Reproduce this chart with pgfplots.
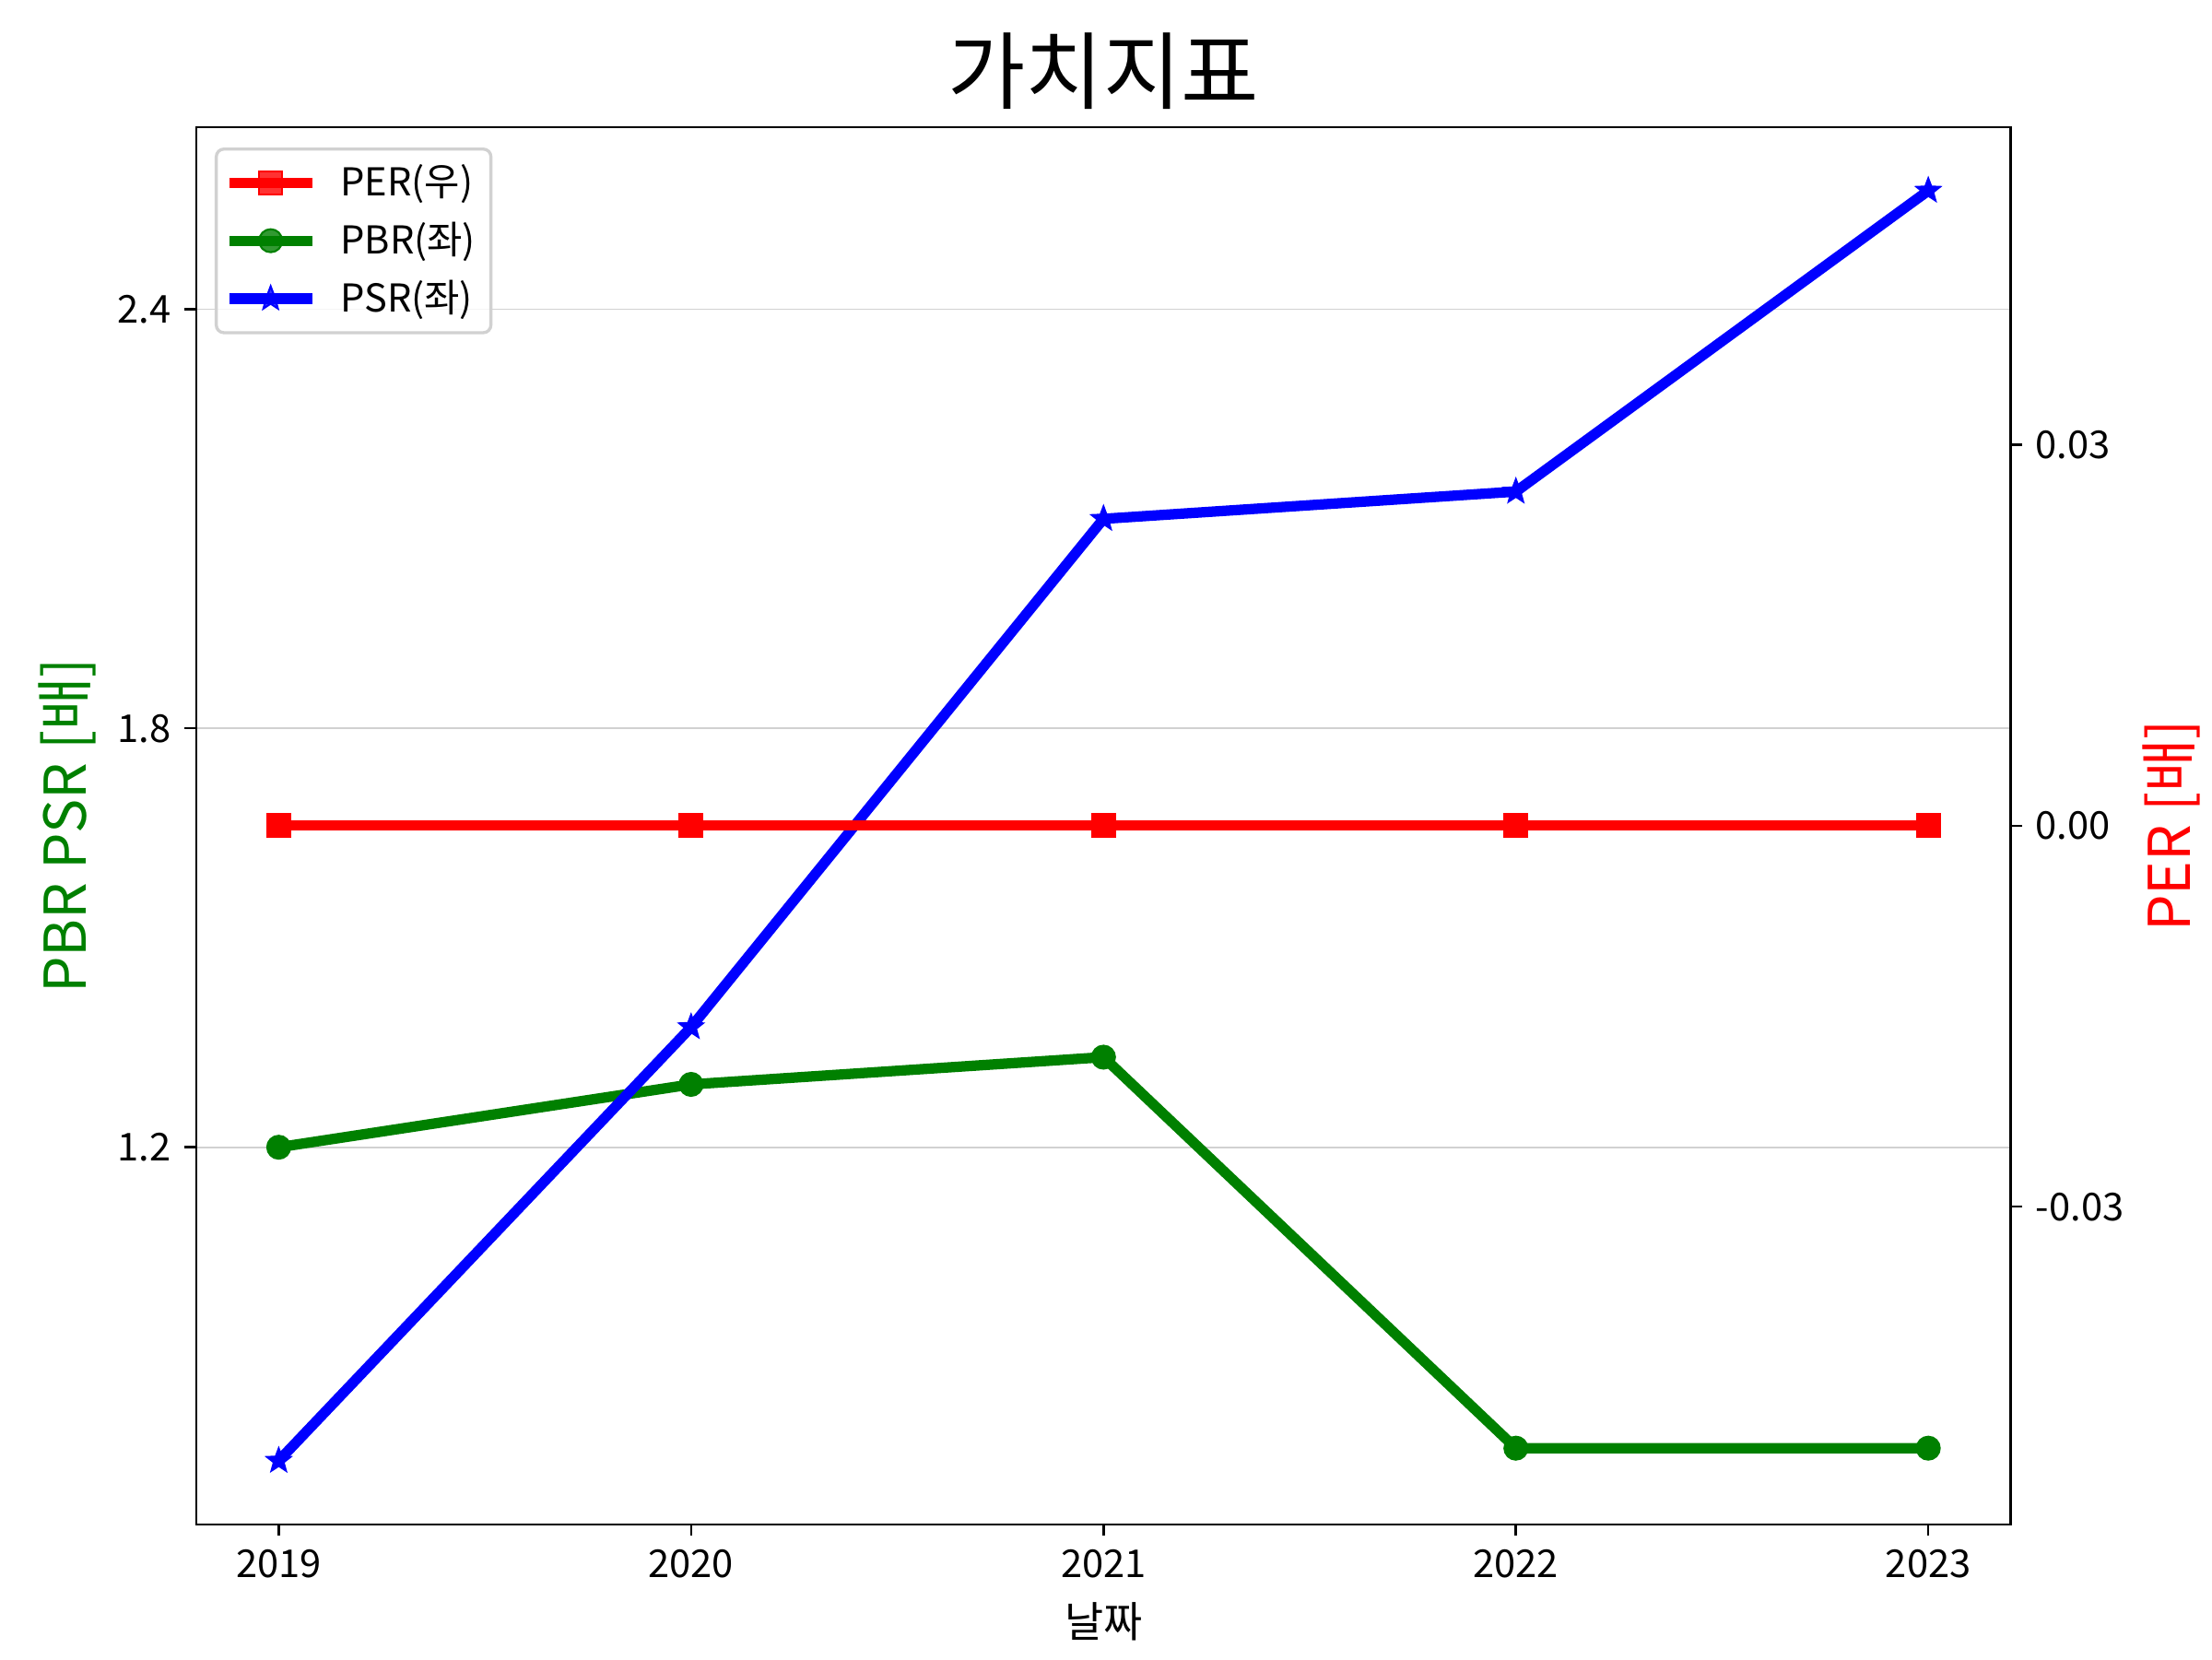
\documentclass[border=0pt]{standalone}
\usepackage{fontspec}
\setmainfont{Noto Sans CJK KR}
\usepackage{pgfplots}
\pgfplotsset{compat=1.18}
\definecolor{mplgreen}{RGB}{0,128,0}
\pgfdeclareplotmark{fstar}{%
  \pgfpathmoveto{\pgfpointpolar{90}{\pgfplotmarksize}}%
  \pgfpathlineto{\pgfpointpolar{126}{0.42\pgfplotmarksize}}%
  \pgfpathlineto{\pgfpointpolar{162}{\pgfplotmarksize}}%
  \pgfpathlineto{\pgfpointpolar{198}{0.42\pgfplotmarksize}}%
  \pgfpathlineto{\pgfpointpolar{234}{\pgfplotmarksize}}%
  \pgfpathlineto{\pgfpointpolar{270}{0.42\pgfplotmarksize}}%
  \pgfpathlineto{\pgfpointpolar{306}{\pgfplotmarksize}}%
  \pgfpathlineto{\pgfpointpolar{342}{0.42\pgfplotmarksize}}%
  \pgfpathlineto{\pgfpointpolar{18}{\pgfplotmarksize}}%
  \pgfpathlineto{\pgfpointpolar{54}{0.42\pgfplotmarksize}}%
  \pgfpathclose
  \pgfusepathqfillstroke
}
\begin{document}
\begin{tikzpicture}
\path[use as bounding box] (0,0) rectangle (576pt,432pt);
\pgfplotsset{
  every axis/.append style={
    at={(51.1pt,35.1pt)}, anchor=south west,
    width=472.5pt, height=363.8pt, scale only axis,
    xmin=2018.8, xmax=2023.2,
    tick align=outside, major tick length=3pt,
    tick style={black, line width=0.6pt},
    axis line style={line width=0.6pt},
    tick label style={font=\fontsize{10}{12}\selectfont},
    scaled y ticks=false, scaled x ticks=false,
  },
}
\begin{axis}[
  ymin=0.66, ymax=2.661,
  xtick={2019,2020,2021,2022,2023},
  xticklabels={2019,2020,2021,2022,2023},
  ytick={1.2,1.8,2.4}, yticklabels={1.2,1.8,2.4},
  xtick pos=bottom, ytick pos=left,
  ymajorgrids, grid style={line width=0.4pt, color=black!18},
  xlabel={날짜}, xlabel style={at={(axis description cs:0.5,-0.0698)}, anchor=center, font=\fontsize{11}{13}\selectfont},
  ylabel={PBR PSR [배]}, ylabel style={at={(axis description cs:-0.0711,0.5)}, anchor=center, font=\fontsize{15}{18}\selectfont, color=mplgreen},
  every axis title shift=0pt,
  title={가치지표}, title style={at={(axis description cs:0.5,1.0399)}, anchor=center, font=\fontsize{22}{26}\selectfont},
  legend cell align=left,
  legend style={at={(axis description cs:0.0102,0.9854)}, anchor=north west,
    draw=black!18, line width=0.8pt, rounded corners=2pt, fill=white, fill opacity=0.8, text opacity=1,
    font=\fontsize{10}{12}\selectfont, row sep=1.3pt, inner sep=2pt},
  legend image code/.code={\draw[mark repeat=2,mark phase=2] plot coordinates {(0cm,0cm)(0.38cm,0cm)(0.76cm,0cm)};
    \path (0cm,0cm) (0.9cm,0cm);},
]
\addlegendimage{red, line width=2.7pt, mark=square*, mark size=3pt, mark options={solid, line width=0.5pt}}
\addlegendentry{PER(우)}
\addplot[mplgreen, line width=2.7pt, mark=*, mark size=3pt, mark options={line width=0.5pt}] coordinates {
(2019,1.200) (2020,1.290) (2021,1.329) (2022,0.769) (2023,0.769)};
\addlegendentry{PBR(좌)}
\addplot[blue, line width=2.7pt, mark=fstar, mark size=3.2pt, mark options={line width=0.5pt}] coordinates {
(2019,0.751) (2020,1.372) (2021,2.100) (2022,2.139) (2023,2.570)};
\addlegendentry{PSR(좌)}
\end{axis}
\begin{axis}[
  ymin=-0.055, ymax=0.055,
  axis x line=none, axis y line*=right,
  ytick={-0.03,0,0.03}, yticklabels={-0.03,0.00,0.03},
  ylabel={PER [배]}, ylabel style={at={(axis description cs:1.0887,0.5)}, anchor=center, rotate=0, font=\fontsize{15}{18}\selectfont, color=red},
]
\addplot[red, line width=2.7pt, mark=square*, mark size=3pt, mark options={line width=0.5pt}] coordinates {
(2019,0) (2020,0) (2021,0) (2022,0) (2023,0)};
\end{axis}
\end{tikzpicture}
\end{document}
